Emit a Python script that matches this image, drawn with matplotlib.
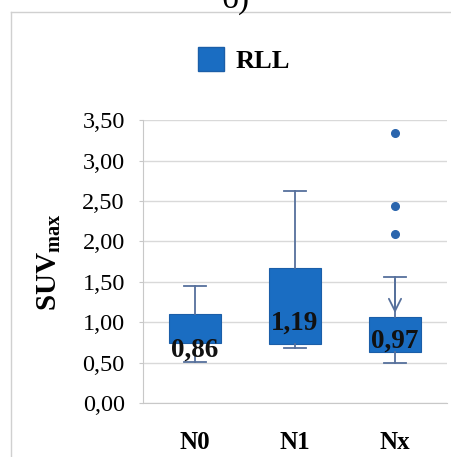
import matplotlib.pyplot as plt
from matplotlib.patches import Patch
from matplotlib.lines import Line2D

groups = ["N0", "N1", "Nx"]
q1 = [0.74, 0.73, 0.63]
med = [0.86, 1.19, 0.97]
q3 = [1.10, 1.67, 1.06]
whislo = [0.51, 0.68, 0.50]
whishi = [1.45, 2.62, 1.56]
fliers = [[], [], [3.34, 2.44, 2.09]]
yticks = [0.0, 0.5, 1.0, 1.5, 2.0, 2.5, 3.0, 3.5]

plt.rcParams['font.family'] = ['Liberation Serif', 'DejaVu Serif']
plt.rcParams['mathtext.fontset'] = 'custom'
plt.rcParams['mathtext.rm'] = 'Liberation Serif'
plt.rcParams['mathtext.bf'] = 'Liberation Serif:bold'

box_col = '#1a6dc2'
whisk_col = '#56709c'
grid_col = '#d9d9d9'

fig = plt.figure(figsize=(4.52, 4.57), dpi=100)
ax = fig.add_axes([0.316, 0.118, 0.673, 0.619])

stats = []
for i in range(len(groups)):
    stats.append(dict(q1=q1[i], med=med[i], q3=q3[i], whislo=whislo[i],
                      whishi=whishi[i], fliers=fliers[i], label=groups[i]))

pos = [1, 2, 3]
ax.bxp(stats, positions=pos, widths=0.52, patch_artist=True, showmeans=False,
       boxprops=dict(facecolor=box_col, edgecolor='#1b5ea8', linewidth=0.8),
       medianprops=dict(linewidth=0),
       whiskerprops=dict(color=whisk_col, linewidth=1.3),
       capprops=dict(color=whisk_col, linewidth=1.3),
       capwidths=[0.22, 0.22, 0.22],
       flierprops=dict(marker='o', markersize=5.5, markerfacecolor='#2a65ad',
                       markeredgecolor='#2a65ad'),
       zorder=3)

# arrow head on the upper Nx whisker
ax.annotate('', xy=(3, q3[2] + 0.02), xytext=(3, whishi[2]),
            arrowprops=dict(arrowstyle='->', color=whisk_col, lw=1.3,
                            mutation_scale=22), zorder=4)

for i in range(len(groups)):
    ax.text(pos[i], med[i] - 0.2, f"{med[i]:.2f}".replace('.', ','),
            ha='center', va='center', fontsize=19.5, fontweight='bold',
            color='#111111', zorder=5)

ax.set_xlim(0.48, 3.52)
ax.set_ylim(0, 3.5)
ax.set_yticks(yticks)
ax.set_yticklabels([f"{t:.2f}".replace('.', ',') for t in yticks], fontsize=17.5)
ax.set_xticks(pos)
ax.set_xticklabels(groups, fontsize=18, fontweight='bold')
ax.yaxis.grid(True, color=grid_col, linewidth=1)
ax.set_axisbelow(True)
for s in ['top', 'right']:
    ax.spines[s].set_visible(False)
for s in ['left', 'bottom']:
    ax.spines[s].set_color('#c8c8c8')
ax.tick_params(axis='y', length=3, color='#c8c8c8', pad=10)
ax.tick_params(axis='x', length=0, pad=20)
ax.set_ylabel(r'$\mathbf{SUV}_{\mathbf{max}}$', fontsize=21, labelpad=14)

leg = fig.legend(handles=[Patch(facecolor=box_col, edgecolor='#1b5ea8', label='RLL')],
                 loc='center', bbox_to_anchor=(0.54, 0.868), frameon=False,
                 handlelength=1.0, handleheight=1.0, handletextpad=0.45,
                 prop=dict(size=19, weight='bold'))

# outer frame and the panel letter clipped at the top edge
fig.add_artist(Line2D([0.024, 0.024], [0.0, 0.974], color='#d0d0d0', lw=1))
fig.add_artist(Line2D([0.024, 1.0], [0.974, 0.974], color='#d0d0d0', lw=1))
fig.text(0.52, 0.984, 'б)', ha='center', va='baseline', fontsize=24)

fig.savefig('out.png', dpi=100)
